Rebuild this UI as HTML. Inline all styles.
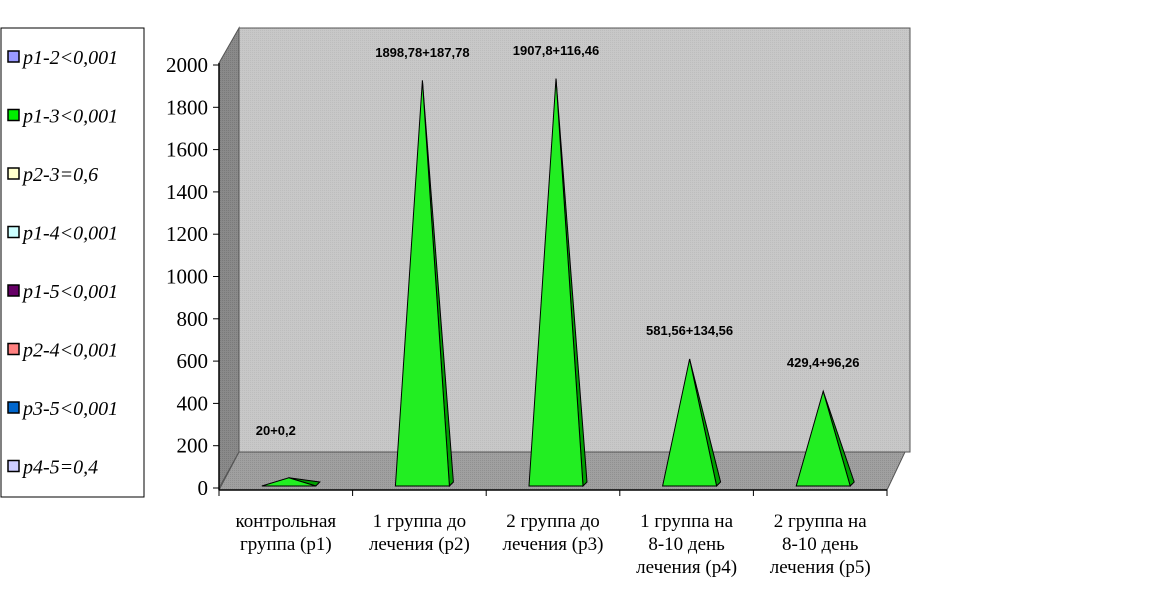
<!DOCTYPE html>
<html><head><meta charset="utf-8"><style>
body{margin:0;background:#fff;width:1163px;height:606px;overflow:hidden}
svg{display:block}
</style></head><body>
<svg id="c" width="1163" height="606" xmlns="http://www.w3.org/2000/svg">
<defs>
<pattern id="dots" width="2" height="2" patternUnits="userSpaceOnUse"><rect width="2" height="2" fill="#c8c8c8"/><rect width="1" height="1" fill="#bdbdbd"/></pattern>
<pattern id="dots2" width="2" height="2" patternUnits="userSpaceOnUse"><rect width="2" height="2" fill="#8a8a8a"/><rect width="1" height="1" fill="#7a7a7a"/></pattern>
<pattern id="dots3" width="2" height="2" patternUnits="userSpaceOnUse"><rect width="2" height="2" fill="#a0a0a0"/><rect width="1" height="1" fill="#909090"/></pattern>
</defs>
<polygon points="239,28 910,28 910,452 239,452" fill="url(#dots)" stroke="#555" stroke-width="1"/>
<polygon points="219,63 239,28 239,452 219,488" fill="url(#dots2)" stroke="#555" stroke-width="1"/>
<polygon points="219,490 239,452 905,452 887,490" fill="url(#dots3)" stroke="#555" stroke-width="1"/>
<line x1="219" y1="63" x2="219" y2="490" stroke="#000" stroke-width="1.5"/>
<line x1="219" y1="490" x2="887" y2="490" stroke="#000" stroke-width="1.5"/>
<g id="yticks"></g><g id="xticks"></g><g id="marks"></g><g id="labels"></g>
<g id="legend">
<rect x="1" y="28" width="143" height="469" fill="#fff" stroke="#000" stroke-width="1"/>
</g>
</svg>
<script>
const categories=[["контрольная","группа (р1)"],["1 группа до","лечения (р2)"],["2 группа до","лечения (р3)"],["1 группа на","8-10 день","лечения (р4)"],["2 группа на","8-10 день","лечения (р5)"]];
const values=[20,1898.78,1907.8,581.56,429.4];
const valueLabels=["20+0,2","1898,78+187,78","1907,8+116,46","581,56+134,56","429,4+96,26"];
const yTicks=[0,200,400,600,800,1000,1200,1400,1600,1800,2000];
const legendLabels=["p1-2<0,001","p1-3<0,001","p2-3=0,6","p1-4<0,001","p1-5<0,001","p2-4<0,001","p3-5<0,001","p4-5=0,4"];
const legendColors=["#9999ff","#00ee00","#ffffcc","#ccffff","#660066","#ff8080","#0066cc","#ccccff"];
const NS="http://www.w3.org/2000/svg";
function y(v){return 488-v*(488-65)/2000;}
function xc(i){return 219+(i+0.5)*133.6;}
function mk(t,a,p){const e=document.createElementNS(NS,t);for(const k in a)e.setAttribute(k,a[k]);p.appendChild(e);return e;}
const yt=document.getElementById('yticks');
yTicks.forEach(v=>{
 const l=mk('line',{x1:213,x2:219,y1:y(v),y2:y(v),stroke:'#000'},yt);
 
 
 const t=mk('text',{x:208,y:y(v)+7,'text-anchor':'end','font-family':'Liberation Serif, serif','font-size':21},yt);
 
 
 t.textContent=v;
});
const xt=document.getElementById('xticks');
for(let i=0;i<=categories.length;i++){
 const x=219+i*133.6;
 const l=mk('line',{x1:x,x2:x,y1:490,y2:496,stroke:'#000'},xt);
 
 
}
categories.forEach((c,i)=>{
 const t=mk('text',{x:xc(i),y:527,'text-anchor':'middle','font-family':'Liberation Serif, serif','font-size':19},xt);
 
 
 c.forEach((s,j)=>{const ts=mk('tspan',{x:xc(i),dy:j?23:0},t);ts.textContent=s;});
});
const mg=document.getElementById('marks'),lg=document.getElementById('labels');
values.forEach((v,i)=>{
 const cx=xc(i)+3,x0=cx-27,x1=cx+27,ay=y(v)-6,ax=cx;
 const s=mk('polygon',{points:`${x1},486 ${x1+4},482 ${ax},${ay}`,fill:'#00a000',stroke:'#000','stroke-width':1},mg);
 
 
 const f=mk('polygon',{points:`${x0},486 ${x1},486 ${ax},${ay}`,fill:'#22ee22',stroke:'#000','stroke-width':1},mg);
 
 
 const t=mk('text',{x:cx-(i==0?13:0),y:i==0?435:(i<3?ay-7:ay-24),'text-anchor':'middle','font-family':'Liberation Sans, sans-serif','font-size':13,'font-weight':'bold'},lg);
 if(i==1)t.setAttribute('y',57);
 if(i==2)t.setAttribute('y',55);
 
 
 t.textContent=valueLabels[i];
});
const lgd=document.getElementById('legend');
legendLabels.forEach((s,i)=>{
 const yy=57+i*58.5;
 const r=mk('rect',{x:8,y:yy-6,width:11,height:11,fill:legendColors[i],stroke:'#000','stroke-width':1.5},lgd);
 
 
 const t=mk('text',{x:23,y:yy+7,'font-family':'Liberation Serif, serif','font-size':20,'font-style':'italic'},lgd);
 
 
 t.textContent=s;
});
</script>
</body></html>
